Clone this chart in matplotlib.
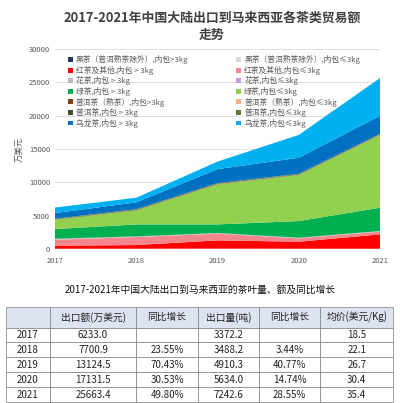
import matplotlib.pyplot as plt

plt.rcParams['font.family'] = ['Noto Sans CJK SC', 'DejaVu Sans']

years = [2017, 2018, 2019, 2020, 2021]

# 万美元
heicha_gt = [20, 20, 20, 20, 20]
heicha_le = [30, 30, 40, 30, 30]
hongcha_gt = [450, 550, 1240, 1050, 2150]
hongcha_le = [900, 1200, 1000, 500, 400]
huacha_gt = [100, 80, 80, 80, 80]
huacha_le = [50, 20, 20, 20, 20]
lvcha_gt = [1450, 1800, 1300, 2500, 3500]
lvcha_le = [1400, 2100, 6000, 6900, 10900]
puershu_gt = [40, 40, 50, 50, 50]
puershu_le = [20, 20, 30, 30, 30]
puer_gt = [60, 100, 80, 80, 80]
puer_le = [30, 40, 40, 40, 40]
wulong_gt = [850, 1000, 2100, 2400, 2700]
wulong_le = [833, 701, 1124, 3431, 5663]

series = [heicha_gt, heicha_le, hongcha_gt, hongcha_le, huacha_gt, huacha_le,
          lvcha_gt, lvcha_le, puershu_gt, puershu_le, puer_gt, puer_le,
          wulong_gt, wulong_le]
labels = ['黑茶（普洱熟茶除外）,内包>3kg', '黑茶（普洱熟茶除外）,内包≤3kg',
          '红茶及其他,内包 > 3kg', '红茶及其他,内包≤3kg',
          '花茶,内包 > 3kg', '花茶,内包≤3kg',
          '绿茶,内包 > 3kg', '绿茶,内包≤3kg',
          '普洱茶（熟茶）,内包>3kg', '普洱茶（熟茶）,内包≤3kg',
          '普洱茶,内包 > 3kg', '普洱茶,内包≤3kg',
          '乌龙茶,内包 > 3kg', '乌龙茶,内包≤3kg']
colors = ['#1f3864', '#d9d9d9', '#ff0000', '#f4868c', '#c8b4bc', '#cc99dd',
          '#00b050', '#92d050', '#843c0c', '#f4b183', '#385723', '#548235',
          '#0070c0', '#00b0f0']

# table data
t_years = ['2017', '2018', '2019', '2020', '2021']
export_val = ['6233.0', '7700.9', '13124.5', '17131.5', '25663.4']
val_growth = ['', '23.55%', '70.43%', '30.53%', '49.80%']
export_vol = ['3372.2', '3488.2', '4910.3', '5634.0', '7242.6']
vol_growth = ['', '3.44%', '40.77%', '14.74%', '28.55%']
avg_price = ['18.5', '22.1', '26.7', '30.4', '35.4']
header = ['', '出口额(万美元)', '同比增长', '出口量(吨)', '同比增长', '均价(美元/Kg)']

fig = plt.figure(figsize=(4.0, 4.03), dpi=100)

fig.text(0.53, 0.957, '2017-2021年中国大陆出口到马来西亚各茶类贸易额', ha='center',
         va='center', fontsize=9.3, fontweight='bold', color='#404040')
fig.text(0.53, 0.913, '走势', ha='center', va='center', fontsize=9.3,
         fontweight='bold', color='#404040')

ax = fig.add_axes([0.1375, 0.382, 0.8125, 0.496])
ax.stackplot(years, *series, labels=labels, colors=colors, linewidth=0)
ax.set_xlim(2017, 2021)
ax.set_ylim(0, 30000)
ax.set_yticks([0, 5000, 10000, 15000, 20000, 25000, 30000])
ax.set_xticks(years)
ax.grid(axis='y', color='#d9d9d9', linewidth=0.6)
ax.set_axisbelow(True)
for s in ax.spines.values():
    s.set_visible(False)
ax.tick_params(length=0, labelsize=5.5, labelcolor='#595959')
ax.tick_params(axis='x', pad=6)
ax.set_ylabel('万美元', fontsize=6, color='#595959', labelpad=4)

# legend: >3kg in left column, ≤3kg in right column
h, l = ax.get_legend_handles_labels()
order = list(range(0, 14, 2)) + list(range(1, 14, 2))
ax.legend([h[i] for i in order], [l[i] for i in order], ncol=2,
          loc='upper left', bbox_to_anchor=(0.03, 0.985),
          fontsize=5.6, frameon=False, handlelength=0.6, handleheight=0.6,
          handletextpad=0.4, columnspacing=6.2, labelspacing=0.2,
          borderaxespad=0, labelcolor='#595959')

fig.text(0.5, 0.281, '2017-2021年中国大陆出口到马来西亚的茶叶量、额及同比增长',
         ha='center', va='center', fontsize=7, color='#111111')

tax = fig.add_axes([0.015, 0.002, 0.968, 0.237])
tax.axis('off')
rows = [header]
for i in range(len(t_years)):
    rows.append([t_years[i], export_val[i], val_growth[i], export_vol[i],
                 vol_growth[i], avg_price[i]])
col_w = [44, 86, 62, 61, 61, 73]
tot = sum(col_w)
tbl = tax.table(cellText=rows, colWidths=[w / tot for w in col_w],
                bbox=[0, 0, 1, 1], cellLoc='center')
tbl.auto_set_font_size(False)
tbl.set_fontsize(7)
for (r, c), cell in tbl.get_celld().items():
    cell.set_edgecolor('#7f7f7f')
    cell.set_linewidth(0.5)
    cell.get_text().set_color('#222222')
    if r == 0:
        cell.set_facecolor('#dde3f1')
        cell.set_height(1.4)
    else:
        cell.set_height(1.0)

fig.savefig('out.png', dpi=100)
